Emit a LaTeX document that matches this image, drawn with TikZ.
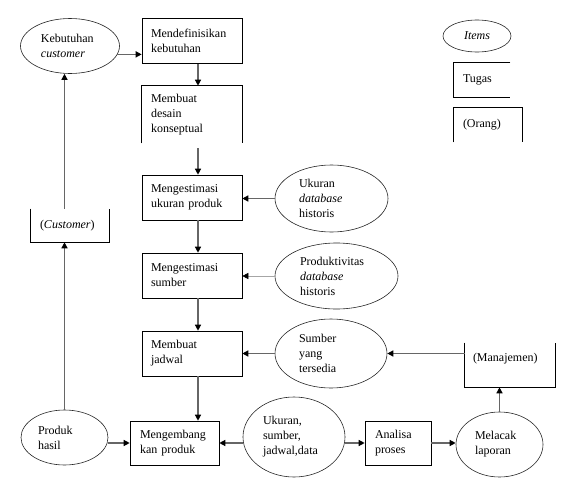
\documentclass[tikz,border=0pt]{standalone}
\usepackage{fontspec}
\setmainfont{Liberation Serif}
\usepackage{tikz}
\usetikzlibrary{shapes.geometric,arrows.meta}
\def\taskwidth{82pt}

\begin{document}
\begin{tikzpicture}[x=1pt,y=-1pt,font=\fontsize{12}{15}\selectfont]
    \tikzstyle{task}=[rectangle,draw=black,line width=0.6pt,align=left,inner xsep=9pt,inner ysep=0pt,minimum height=45pt]
    \tikzstyle{open task}=[task,draw=none]
    \tikzstyle{item}=[ellipse,draw=black!85,line width=0.6pt,align=left,inner sep=0pt]
    \tikzstyle{flow}=[draw=black!60,line width=1.3pt,-{Triangle[length=6pt,width=6pt,color=black]}]
    \tikzstyle{faint flow}=[flow,draw=black!35,line width=0.6pt]
    \tikzstyle{edge line}=[draw=black,line width=0.6pt]

    \useasboundingbox (0,0) rectangle (571,485);

    % Draw the main column of tasks
    \node[task,text width=\taskwidth] (def) at (192,41) {Mendefinisikan\\kebutuhan};
    \node[open task,text width=\taskwidth,minimum height=57pt] (desain) at (192,114.5) {Membuat\\desain\\konseptual};
    \draw[edge line] (desain.south west) -- (desain.north west) -- (desain.north east) -- (desain.south east);
    \node[task,text width=\taskwidth] (ukuran) at (192,197.5) {Mengestimasi\\ukuran produk};
    \node[task,text width=\taskwidth] (sumber) at (192,275.5) {Mengestimasi\\sumber};
    \node[task,text width=\taskwidth] (jadwal) at (192,353.5) {Membuat\\jadwal};
    \node[task,text width=69pt,inner xsep=10pt,minimum height=44pt] (kembang) at (174.5,443) {Mengembang\\kan produk};
    \node[task,text width=46pt,inner xsep=10pt,minimum height=44pt] (analisa) at (398,443) {Analisa\\proses};

    % Draw the people
    \node[open task,text width=60pt,minimum height=33pt] (pelanggan) at (70,225.5) {(\textit{Customer})};
    \draw[edge line] (pelanggan.north west) -- (pelanggan.south west) -- (pelanggan.south east) -- (pelanggan.north east);
    \node[open task,text width=74pt,inner xsep=8pt,minimum height=44pt] (manajemen) at (510,365) {(Manajemen)\\\mbox{}};
    \draw[edge line] (manajemen.north west) -- (manajemen.south west) -- (manajemen.south east) -- (manajemen.north east);

    % Draw the items
    \node[item,minimum width=99pt,minimum height=55pt,text width=58pt] (cust) at (70,46) {Kebutuhan\\\textit{customer}};
    \node[item,minimum width=87pt,minimum height=55pt,text width=53pt] (produk) at (64.5,437.5) {Produk\\hasil};
    \node[item,minimum width=113pt,minimum height=67pt,text width=65pt] (udb) at (331.5,198.5) {Ukuran\\\textit{database}\\historis};
    \node[item,minimum width=123pt,minimum height=66pt,text width=73pt] (pdb) at (336.5,276) {Produktivitas\\\textit{database}\\historis};
    \node[item,minimum width=112pt,minimum height=69pt,text width=64pt] (tersedia) at (331,353.5) {Sumber\\yang\\tersedia};
    \node[item,minimum width=102pt,minimum height=80pt,text width=62pt] (usj) at (294,437) {Ukuran,\\sumber,\\jadwal,data};
    \node[item,minimum width=87pt,minimum height=65pt,text width=49pt] (lacak) at (499.5,444.5) {Melacak\\laporan};

    % Legend
    \node[item,minimum width=68pt,minimum height=32pt,align=center] (items) at (477,36) {\textit{Items}};
    \node[open task,text width=38pt,minimum height=34pt] (tugas) at (482,80) {Tugas};
    \draw[edge line] (tugas.north east) -- (tugas.north west) -- (tugas.south west) -- (tugas.south east);
    \node[open task,text width=50pt,minimum height=34pt] (orang) at (488,125) {(Orang)};
    \draw[edge line] (orang.south west) -- (orang.north west) -- (orang.north east) -- (orang.south east);

    % Connect the tasks down the column
    \coordinate (col) at (198,0);
    \coordinate (dgap) at ([yshift=-5pt]desain.south);
    \foreach \src/\dst in {def/desain,ukuran/sumber,sumber/jadwal,jadwal/kembang}
        \draw[flow] (\src.south -| col) -- (\dst.north -| col);
    \draw[flow] (dgap -| col) -- (ukuran.north -| col);

    % Items flowing into the tasks
    \draw[flow] (cust.-10) -- (cust.-10 -| def.west);
    \draw[flow] (udb.west) -- (udb.west -| ukuran.east);
    \draw[faint flow] (pdb.west) -- (pdb.west -| sumber.east);
    \draw[flow] (tersedia.west) -- (tersedia.west -| jadwal.east);
    \draw[flow] (tersedia.east -| manajemen.west) -- (tersedia.east);
    \draw[flow] (kembang.east -| usj.west) -- (kembang.east);
    \draw[flow] (kembang.west -| produk.east) -- (kembang.west);
    \draw[flow] (analisa.west -| usj.east) -- (analisa.west);
    \draw[flow] (analisa.east) -- (analisa.east -| lacak.west);
    \draw[flow] (lacak.north) -- (lacak.north |- manajemen.south);

    % Back up to the customer
    \draw[flow] (produk.north) -- (produk.north |- pelanggan.south);
    \draw[flow] (pelanggan.north -| produk.north) -- (produk.north |- cust.south);
\end{tikzpicture}
\end{document}
